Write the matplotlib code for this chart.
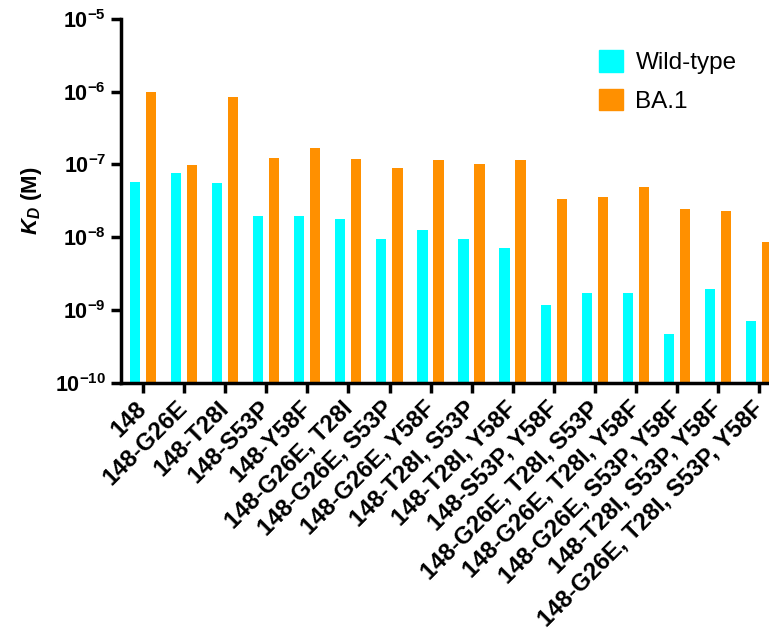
import matplotlib
matplotlib.use("Agg")
import matplotlib.pyplot as plt
import matplotlib.transforms as mtransforms
import numpy as np
from matplotlib.patches import Patch

categories = ["148", "148-G26E", "148-T28I", "148-S53P", "148-Y58F",
              "148-G26E, T28I", "148-G26E, S53P", "148-G26E, Y58F",
              "148-T28I, S53P", "148-T28I, Y58F", "148-S53P, Y58F",
              "148-G26E, T28I, S53P", "148-G26E, T28I, Y58F",
              "148-G26E, S53P, Y58F", "148-T28I, S53P, Y58F",
              "148-G26E, T28I, S53P, Y58F"]
wild_type = [5.7e-8, 7.6e-8, 5.5e-8, 1.93e-8, 1.97e-8, 1.75e-8, 9.4e-9, 1.26e-8,
             9.3e-9, 7.1e-9, 1.18e-9, 1.7e-9, 1.7e-9, 4.6e-10, 1.97e-9, 7.0e-10]
ba1 = [1.0e-6, 9.8e-8, 8.5e-7, 1.21e-7, 1.66e-7, 1.18e-7, 8.8e-8, 1.14e-7,
       1.02e-7, 1.15e-7, 3.34e-8, 3.6e-8, 4.9e-8, 2.4e-8, 2.26e-8, 8.7e-9]
series_names = ["Wild-type", "BA.1"]
colors = ["#00FFFF", "#FF9000"]
ytick_vals = [1e-10, 1e-9, 1e-8, 1e-7, 1e-6, 1e-5]
ytick_labels = [r"$\mathbf{10^{-10}}$", r"$\mathbf{10^{-9}}$", r"$\mathbf{10^{-8}}$",
                r"$\mathbf{10^{-7}}$", r"$\mathbf{10^{-6}}$", r"$\mathbf{10^{-5}}$"]

plt.rcParams['font.family'] = ['Liberation Sans', 'DejaVu Sans']
plt.rcParams['mathtext.fontset'] = 'custom'
plt.rcParams['mathtext.rm'] = 'Liberation Sans:bold'
plt.rcParams['mathtext.bf'] = 'Liberation Sans:bold'
plt.rcParams['mathtext.it'] = 'Liberation Sans:italic:bold'

fig = plt.figure(figsize=(7.69, 6.28), dpi=100)
ax = fig.add_axes([0.157, 0.3906, 0.843, 0.5794])

x = np.arange(len(categories))
w = 0.25
ax.bar(x - 0.2, wild_type, width=w, color=colors[0], bottom=0)
ax.bar(x + 0.19, ba1, width=w, color=colors[1], bottom=0)

ax.set_yscale('log')
ax.set_ylim(1e-10, 1e-5)
ax.set_xlim(-0.543, 15.235)
ax.set_yticks(ytick_vals)
ax.set_yticklabels(ytick_labels, fontsize=15.5)
ax.yaxis.set_minor_locator(matplotlib.ticker.NullLocator())
ax.set_xticks(x)
ax.set_xticklabels([])

# category labels placed at each tick, shifted slightly
base = mtransforms.blended_transform_factory(ax.transData, ax.transAxes)
offset = mtransforms.ScaledTranslation(-0.08, -0.14, fig.dpi_scale_trans)
for xi, cat in zip(x, categories):
    ax.text(xi, 0, cat, transform=base + offset, rotation=45, ha='right',
            va='top', rotation_mode='anchor', fontsize=17.2, fontweight='bold',
            clip_on=False)

for s in ['top', 'right']:
    ax.spines[s].set_visible(False)
for s in ['left', 'bottom']:
    ax.spines[s].set_linewidth(2.5)
ax.tick_params(axis='both', width=2.5, length=7, direction='out')

ax.set_ylabel(r"$K_D$ (M)", fontsize=16, fontweight='bold', labelpad=8)

handles = [Patch(color=colors[0]), Patch(color=colors[1])]
ax.legend(handles, series_names, loc='upper left', bbox_to_anchor=(0.704, 0.975),
          frameon=False, fontsize=17.5, handlelength=1.0, handleheight=1.0,
          handletextpad=0.5, labelspacing=0.6)

fig.savefig("out.png", dpi=100)
